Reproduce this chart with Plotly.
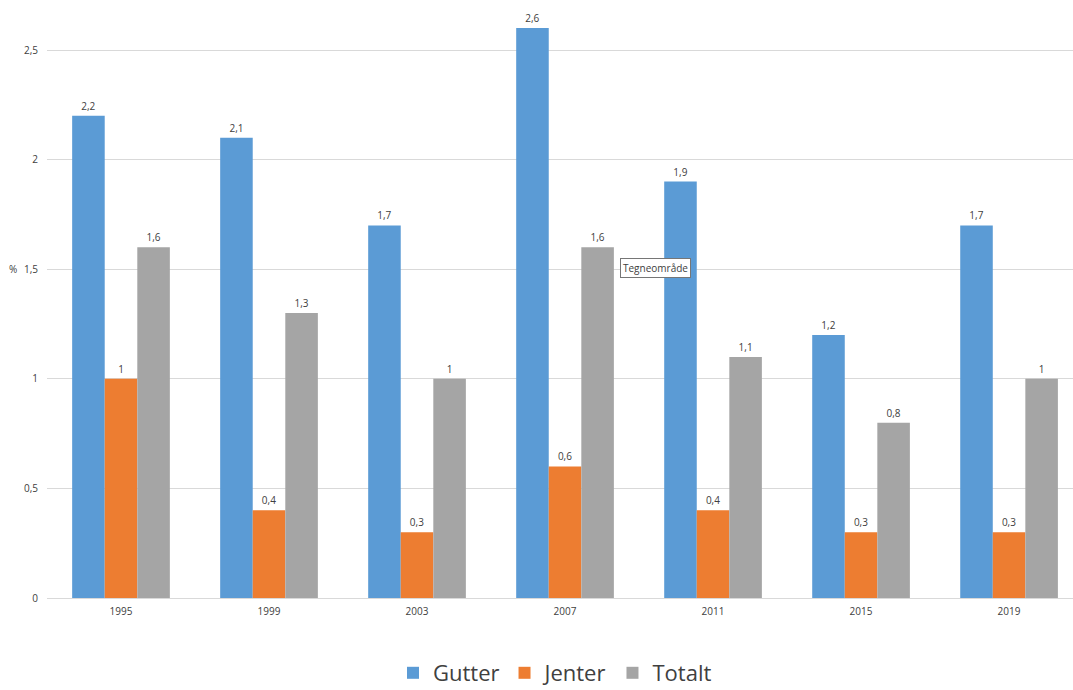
import plotly.graph_objects as go

years = ["1995", "1999", "2003", "2007", "2011", "2015", "2019"]
gutter = [2.2, 2.1, 1.7, 2.6, 1.9, 1.2, 1.7]
jenter = [1.0, 0.4, 0.3, 0.6, 0.4, 0.3, 0.3]
totalt = [1.6, 1.3, 1.0, 1.6, 1.1, 0.8, 1.0]

def lab(vals):
    return [("%g" % v).replace(".", ",") for v in vals]

font_family = "Open Sans, Noto Sans, sans-serif"
fig = go.Figure()
for name, vals, col in [("Gutter", gutter, "#5B9BD5"),
                        ("Jenter", jenter, "#ED7D31"),
                        ("Totalt", totalt, "#A5A5A5")]:
    fig.add_trace(go.Bar(
        x=years, y=vals, name=name, marker_color=col, marker_line_width=0,
        text=lab(vals), textposition="outside", cliponaxis=False,
        textfont=dict(size=10, color="#404040", family=font_family),
    ))

fig.update_layout(
    width=1073, height=690,
    margin=dict(l=47, r=0, t=20, b=92, autoexpand=False),
    paper_bgcolor="white", plot_bgcolor="white",
    barmode="group", bargap=0.34, bargroupgap=0,
    separators=", ",
    font=dict(family=font_family, color="#595959", size=10),
    showlegend=True,
    legend=dict(orientation="h", xref="paper", yref="paper",
                x=(555 - 47) / 1026, xanchor="center", y=-(673 - 598) / 578, yanchor="middle",
                font=dict(size=22, color="#404040"), itemwidth=30,
                traceorder="normal"),
    xaxis=dict(type="category", range=[-0.5, 6.432], showgrid=False,
               showline=True, linecolor="#D9D9D9", linewidth=1,
               ticklabelstandoff=4,
               tickfont=dict(size=10, color="#404040"), ticks=""),
    yaxis=dict(range=[0, 2.637], dtick=0.5, showgrid=True, gridcolor="#D9D9D9",
               gridwidth=1, zeroline=False, showline=False, ticks="",
               ticklabelstandoff=8, tickfont=dict(size=10, color="#404040")),
    annotations=[
        dict(text="%", xref="paper", yref="paper", x=-(47 - 13) / 1026, y=(598 - 269) / 578,
             showarrow=False, font=dict(size=10, color="#404040"),
             xanchor="center", yanchor="middle"),
        dict(text="Tegneområde", xref="paper", yref="paper",
             x=(620 - 47) / 1026, y=(598 - 268) / 578, xanchor="left", yanchor="middle",
             showarrow=False, bgcolor="white", bordercolor="#767676", borderwidth=1,
             borderpad=2, font=dict(size=10, color="#404040")),
    ],
)

fig.write_html("out.html")
